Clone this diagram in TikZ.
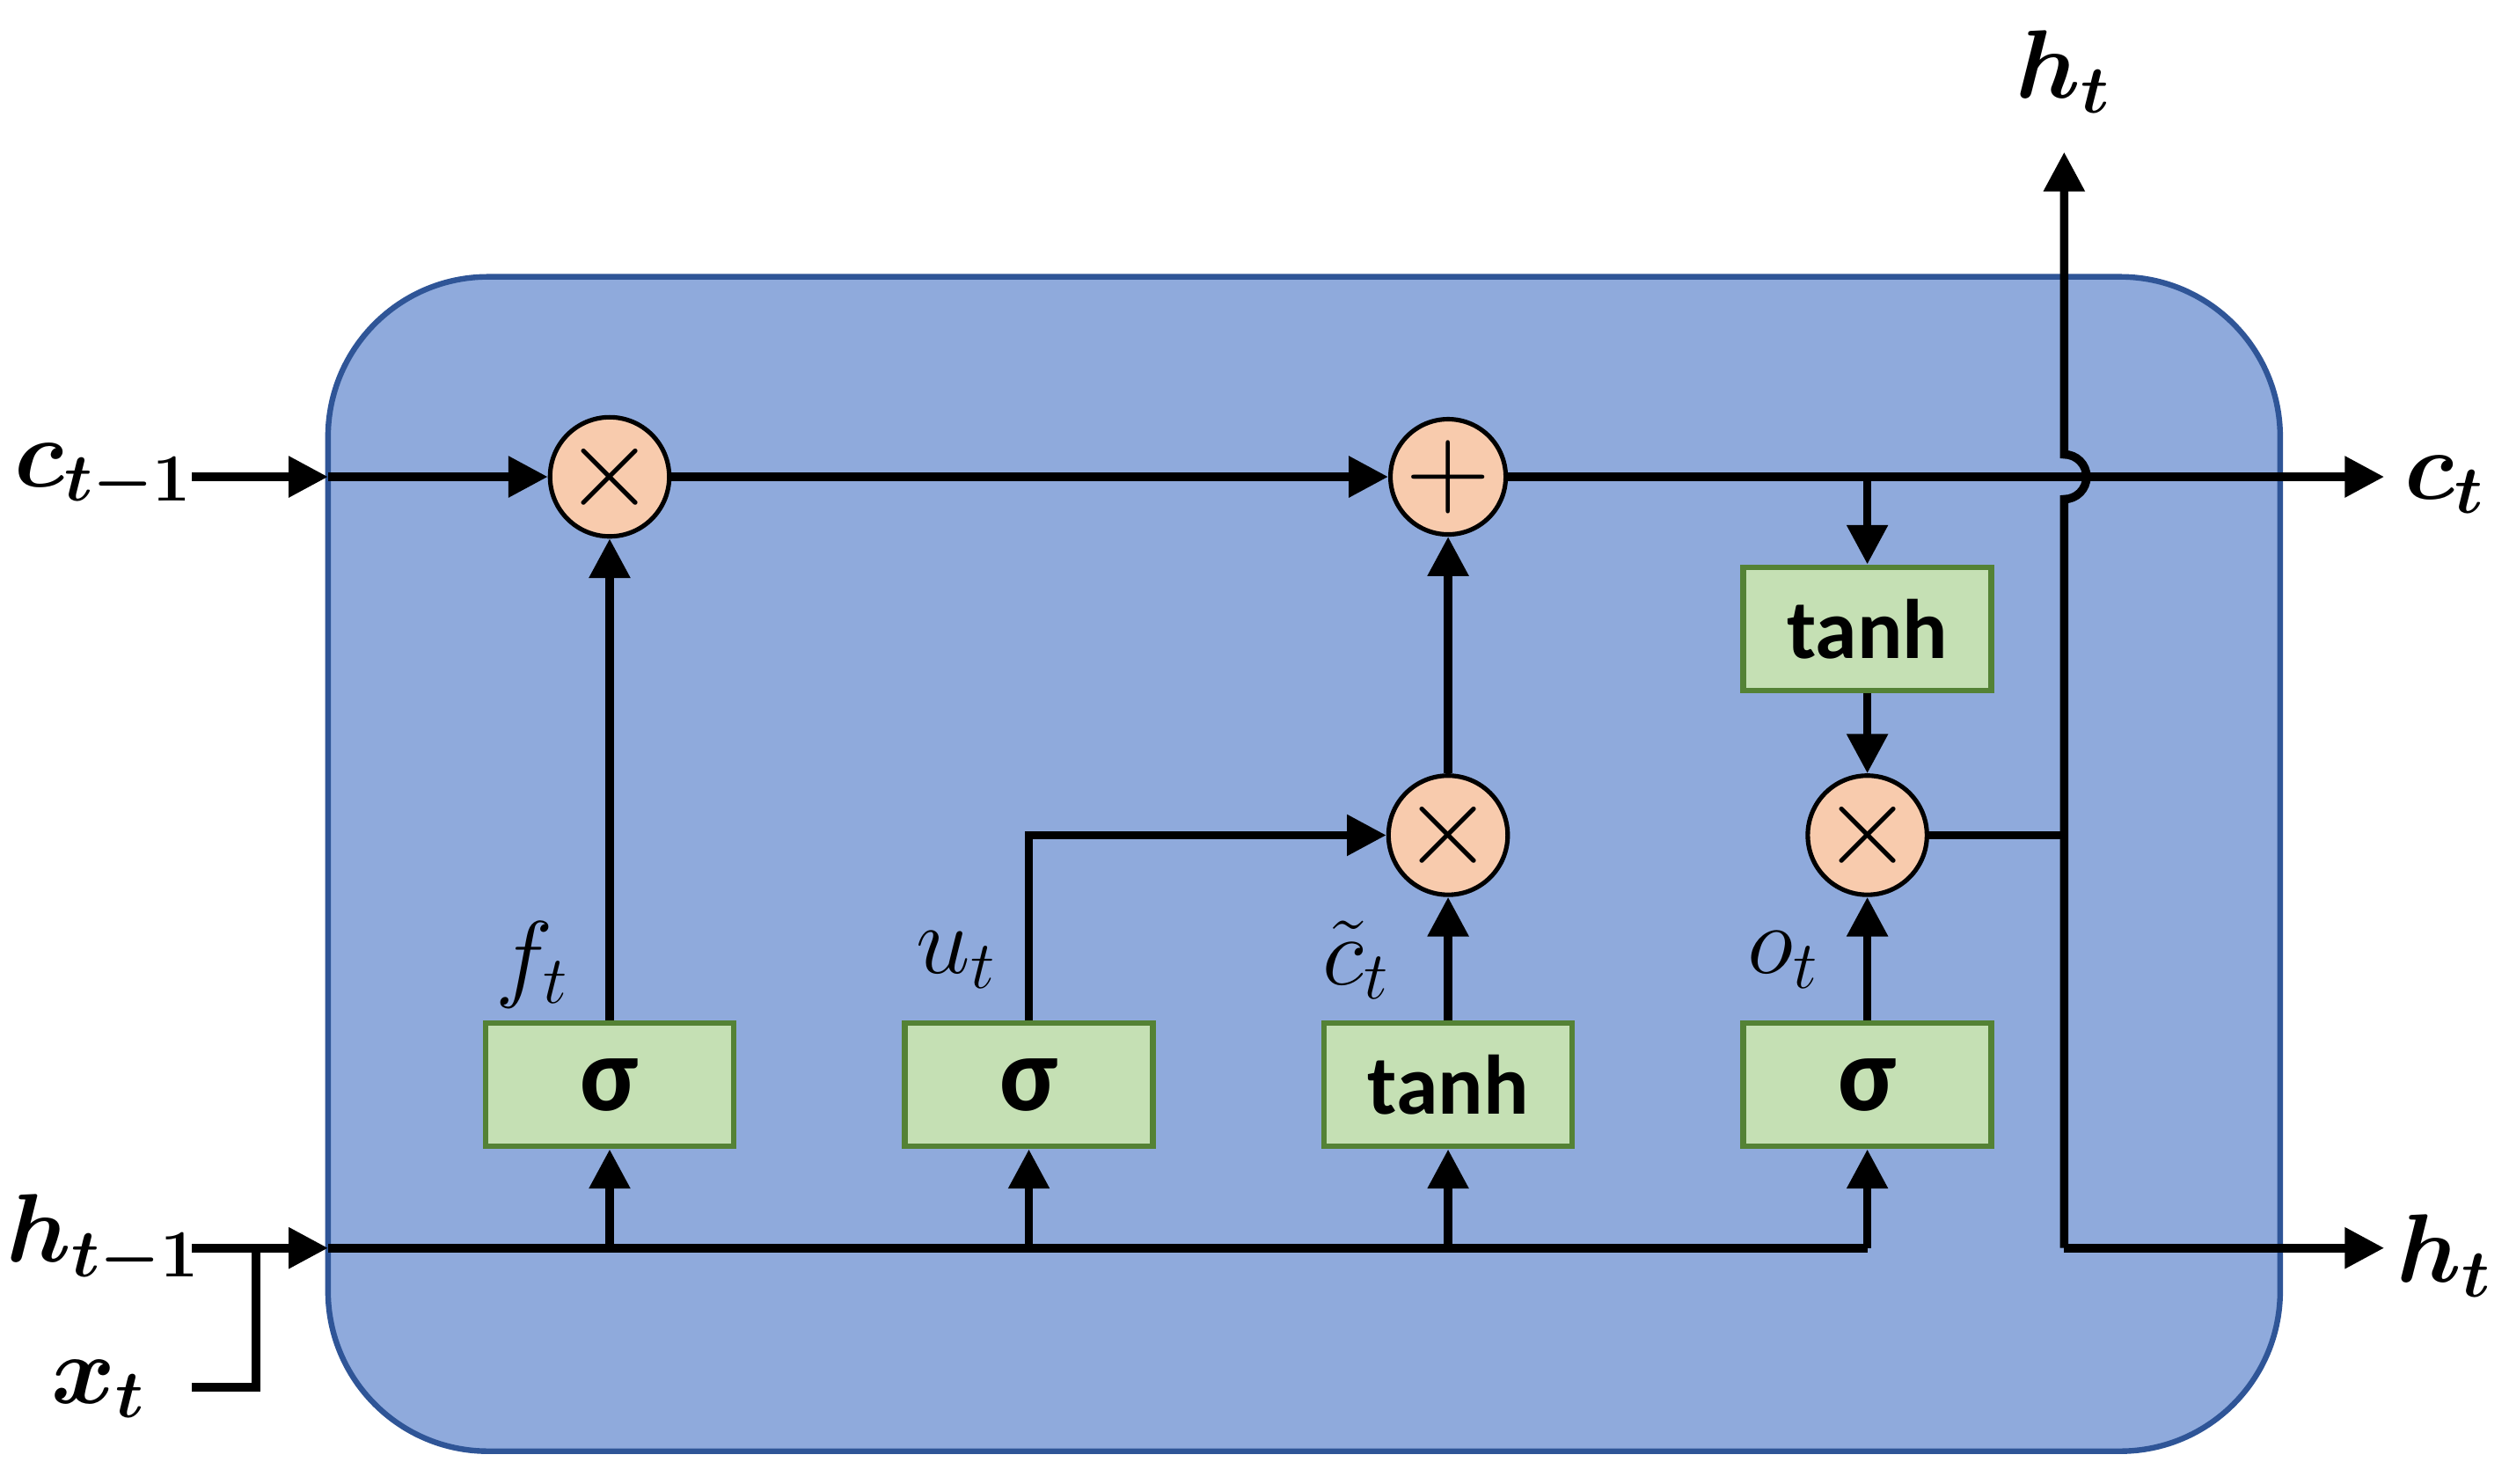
\documentclass[tikz,border=0pt]{standalone}
\usepackage{fontspec}
\usepackage{bm}
\setmainfont{Carlito}
\usetikzlibrary{arrows.meta}
\definecolor{cellbg}{HTML}{8FAADC}
\definecolor{cellbd}{HTML}{2F5597}
\definecolor{opfill}{HTML}{F8CBAD}
\definecolor{boxfill}{HTML}{C5E0B4}
\definecolor{boxbd}{HTML}{548235}
\begin{document}
\begin{tikzpicture}[x=0.01cm,y=-0.01cm,
  ln/.style={line width=1.5pt},
  ar/.style={ln,-{Triangle[length=7pt,width=7pt]}},
  op/.style={circle,draw=black,line width=0.8pt,fill=opfill,minimum size=0.72cm,inner sep=0pt,font=\fontsize{20}{20}\selectfont},
  gate/.style={rectangle,draw=boxbd,line width=1pt,fill=boxfill,minimum width=1.55cm,minimum height=0.77cm,font=\bfseries\fontsize{15}{15}\selectfont},
  lab/.style={font=\fontsize{17}{17}\selectfont},
  io/.style={font=\fontsize{18}{18}\selectfont}]
\useasboundingbox (0,0) rectangle (1568,927);
\fill[cellbg,draw=cellbd,line width=1pt,rounded corners=1cm] (205,173) rectangle (1425,907);
% nodes
\node[op] (m1) at (381,298) {$\times$};
\node[op] (p1) at (905,298) {$+$};
\node[op] (m2) at (905,522) {$\times$};
\node[op] (m3) at (1167,522) {$\times$};
\node[gate,font=\bfseries\fontsize{19}{19}\selectfont] (g1) at (381,678) {σ};
\node[gate,font=\bfseries\fontsize{19}{19}\selectfont] (g2) at (643,678) {σ};
\node[gate] (g3) at (905,678) {tanh};
\node[gate,font=\bfseries\fontsize{19}{19}\selectfont] (g4) at (1167,678) {σ};
\node[gate] (g5) at (1167,393) {tanh};
% io labels
\node[io] (ct1) at (65,298) {$\bm{c_{t-1}}$};
\node[io] (ht1) at (65,775) {$\bm{h_{t-1}}$};
\node[io] (xt) at (62,868) {$\bm{x_t}$};
\node[io] (ct) at (1528,303) {$\bm{c_t}$};
\node[io] (ht) at (1528,785) {$\bm{h_t}$};
\node[io] (htop) at (1290,45) {$\bm{h_t}$};
\node[lab] at (333,603) {$f_t$};
\node[lab] at (598,600) {$u_t$};
\node[lab] at (848,600) {$\tilde{c}_t$};
\node[lab] at (1115,600) {$o_t$};
% coordinates
\coordinate (cin) at (205,298);
\coordinate (hin) at (205,780);
\coordinate (hend) at (1167,780);
\coordinate (br) at (1167,298);
\coordinate (cout) at (1490,298);
\coordinate (vx) at (1290,522);
\coordinate (vb) at (1290,780);
\coordinate (vt) at (1290,95);
\coordinate (hout) at (1490,780);
% c line
\draw[ar] (120,298) -- (cin);
\draw[ar] (cin) -- (m1);
\draw[ar] (m1) -- (p1);
\draw[ar] (p1.east) -- (cout);
\draw[ar] (br) -- (g5.north);
\draw[ar] (g5) -- (m3);
\draw[ar] (g1) -- (m1);
\draw[ar] (g3) -- (m2);
\draw[ar] (m2) -- (p1);
\draw[ar] (g4) -- (m3);
\draw[ar] (g2.north) |- (m2.west);
% h line
\draw[ar] (120,780) -- (hin);
\draw[ln] (hin) -- (hend);
\draw[ln] (120,867) -- (160,867) -- (160,780);
\foreach \g/\x in {g1/381,g2/643,g3/905,g4/1167}
  \draw[ar] (\x,780) -- (\g.south);
% output
\draw[ln] (m3) -- (vx);
\draw[ar] (vb) -- (1290,312) arc[start angle=90,end angle=-90,radius=14] -- (vt);
\draw[ar] (vb) -- (hout);
\end{tikzpicture}
\end{document}
